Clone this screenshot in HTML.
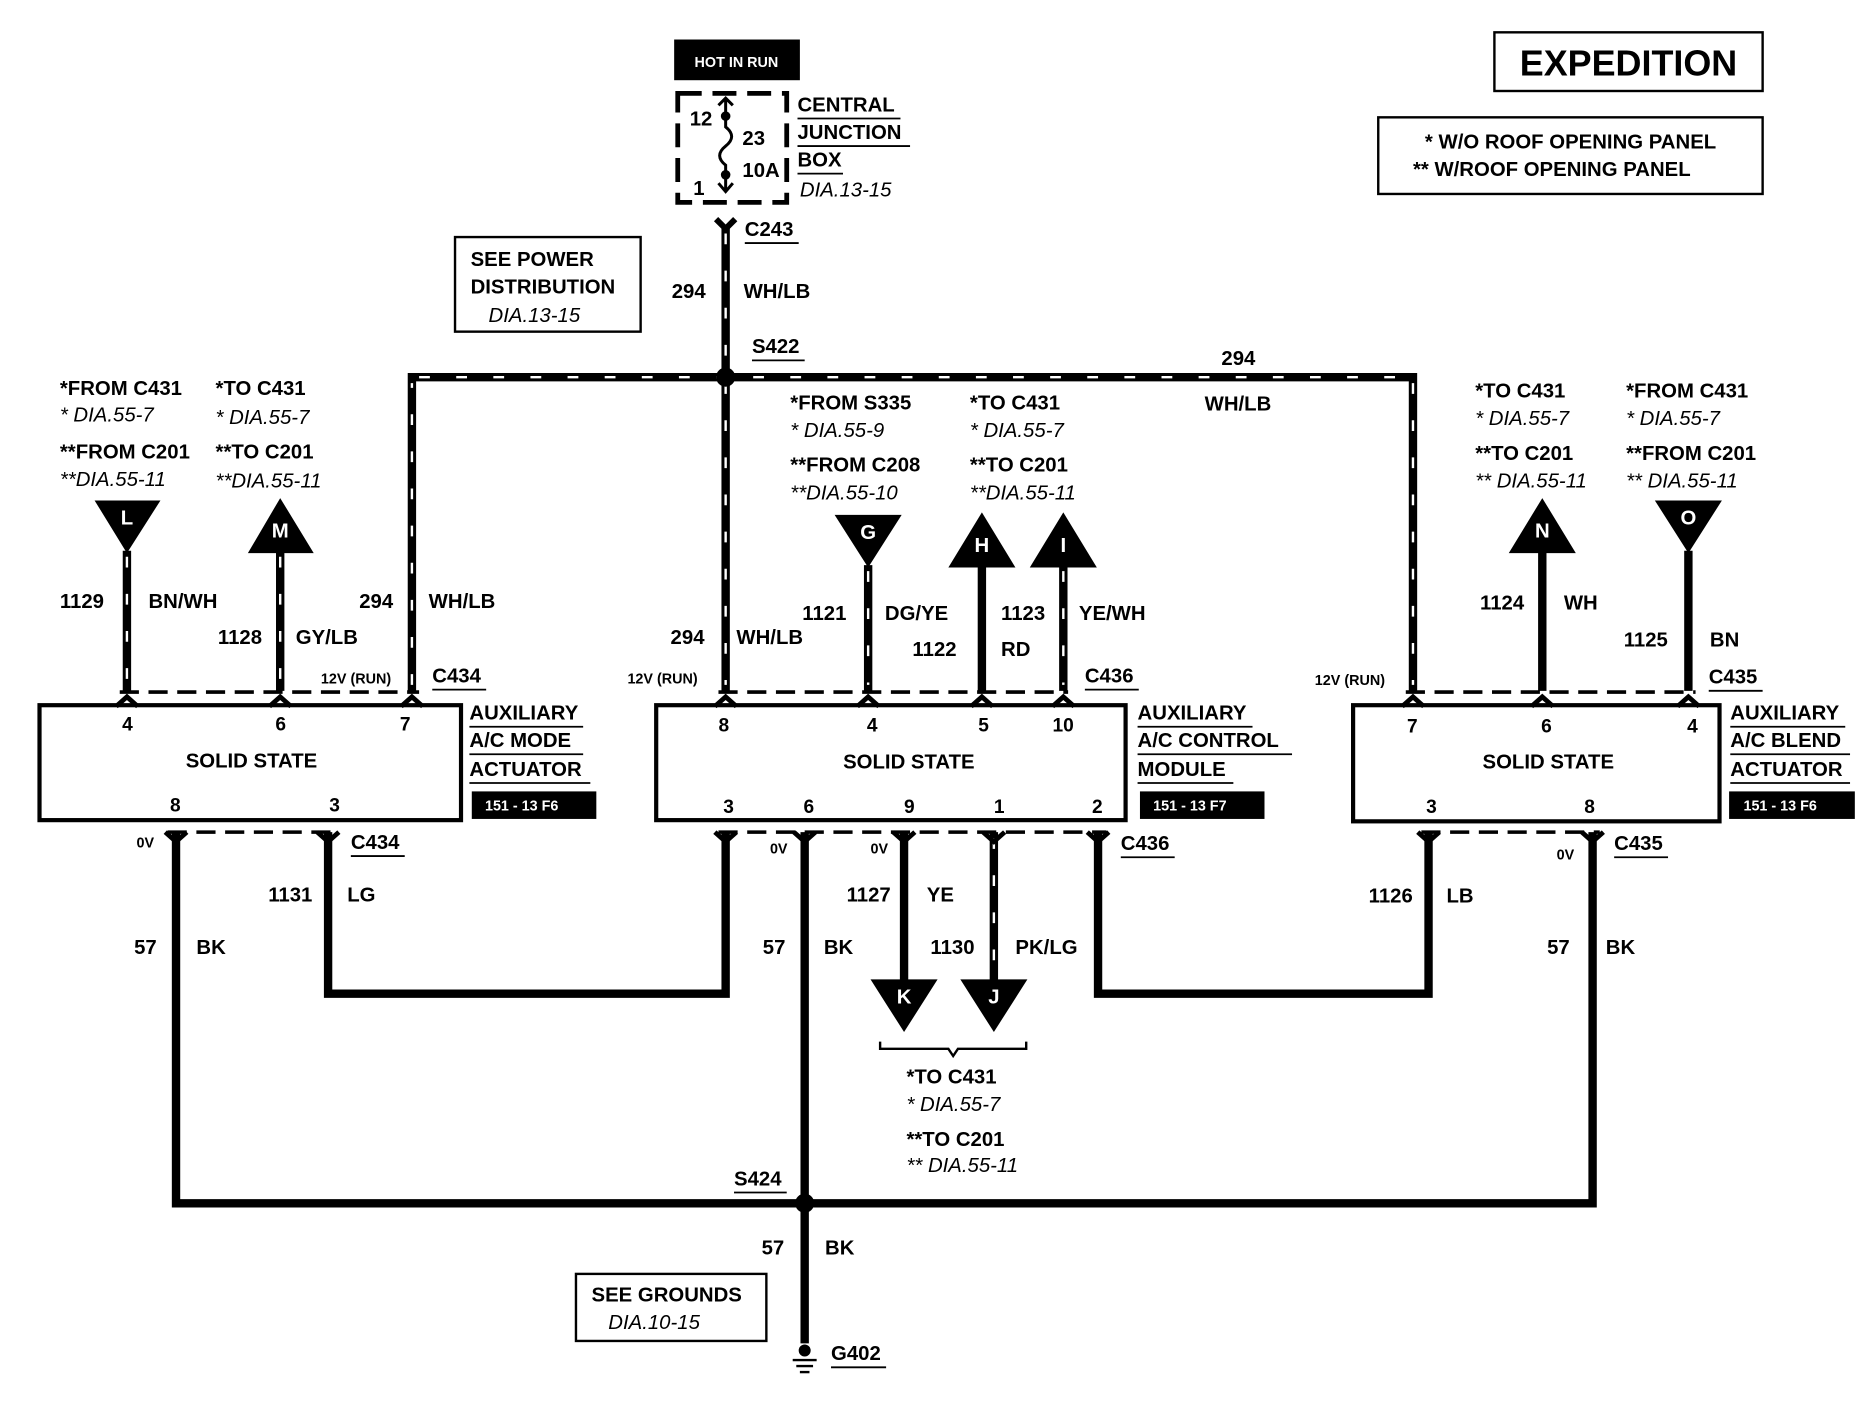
<!DOCTYPE html>
<html><head><meta charset="utf-8"><style>
html,body{margin:0;padding:0;background:#fff;}
svg{display:block;}
text{font-family:"Liberation Sans",sans-serif;font-weight:bold;font-size:17px;fill:#000;}
.i{font-style:italic;font-weight:normal;}
.s{font-size:12px;}
.w{fill:#fff;}
.m{font-size:16px;}
</style></head><body>
<svg width="1868" height="1408" viewBox="0 0 1560 1176" preserveAspectRatio="none" xmlns="http://www.w3.org/2000/svg">
<defs>
<g id="fk"><path d="M-9,-8 L0,0 L9,-8" stroke="#000" stroke-width="4" fill="none"/></g>
</defs>
<!-- HOT IN RUN -->
<rect x="563" y="33" width="105" height="34" fill="#000"/>
<text x="615" y="56" class="s w" text-anchor="middle" font-weight="normal">HOT IN RUN</text>
<rect x="566" y="78" width="91" height="91" fill="none" stroke="#000" stroke-width="4" stroke-dasharray="20,9"/>
<path d="M606,82 L606,96 M606,96 L606,106 Q616,114 606,122 Q596,130 606,138 L606,160 M600,88 L606,82 L612,88 M600,153 L606,160 L612,153" stroke="#000" stroke-width="2.5" fill="none"/>
<circle cx="606" cy="97" r="4"/><circle cx="606" cy="146" r="4"/>
<text x="576" y="105">12</text><text x="620" y="121">23</text><text x="620" y="148">10A</text><text x="579" y="163">1</text>
<text x="666" y="93">CENTRAL</text><line x1="666" y1="99" x2="752" y2="99" stroke="#000" stroke-width="1.5"/>
<text x="666" y="116">JUNCTION</text><line x1="666" y1="122" x2="760" y2="122" stroke="#000" stroke-width="1.5"/>
<text x="666" y="139">BOX</text><line x1="666" y1="145" x2="704" y2="145" stroke="#000" stroke-width="1.5"/>
<text x="668" y="164" class="i">DIA.13-15</text>
<!-- EXPEDITION -->
<rect x="1248" y="27" width="224" height="49" fill="none" stroke="#000" stroke-width="2"/>
<text x="1360" y="63" text-anchor="middle" style="font-size:30px">EXPEDITION</text>
<rect x="1151" y="98" width="321" height="64" fill="none" stroke="#000" stroke-width="2"/>
<text x="1190" y="124">*  W/O ROOF OPENING PANEL</text>
<text x="1180" y="147">**  W/ROOF OPENING PANEL</text>
<!-- see power -->
<rect x="380" y="198" width="155" height="79" fill="none" stroke="#000" stroke-width="2"/>
<text x="393" y="222">SEE POWER</text><text x="393" y="245">DISTRIBUTION</text><text x="408" y="269" class="i">DIA.13-15</text>
<!-- thick wires -->
<g stroke="#000" stroke-width="7" fill="none">
<path d="M606,190 L606,315 M344,577 L344,315 L1180,315 L1180,577 M606,315 L606,577"/>
<path d="M106,460 L106,577 M234,460 L234,577 M725,472 L725,577 M820,472 L820,577 M888,472 L888,577 M1288,460 L1288,577 M1410,460 L1410,577"/>
<path d="M147,695 L147,1005 L1330,1005 L1330,695 M274,695 L274,830 L606,830 L606,695 M672,695 L672,1122 M755,695 L755,820 M830,695 L830,820 M917,695 L917,830 L1193,830 L1193,695"/>
</g>
<g stroke="#fff" stroke-width="2" fill="none" stroke-dasharray="9,22">
<path d="M606,195 L606,310 M344,572 L344,320 M350,315 L1174,315 M1180,320 L1180,572 M606,320 L606,572"/>
<path d="M106,465 L106,572 M234,465 L234,572 M725,477 L725,572 M888,477 L888,572 M830,700 L830,815"/>
</g>
<path d="M598,183 L606,191 L614,183" stroke="#000" stroke-width="5" fill="none"/>
<text x="622" y="197">C243</text><line x1="622" y1="203" x2="667" y2="203" stroke="#000" stroke-width="1.5"/>
<text x="561" y="249">294</text><text x="621" y="249">WH/LB</text>
<circle cx="606" cy="315" r="8"/>
<text x="628" y="295">S422</text><line x1="628" y1="301" x2="672" y2="301" stroke="#000" stroke-width="1.5"/>
<text x="1020" y="305">294</text><text x="1006" y="343">WH/LB</text>
<!-- connector dashes top -->
<g stroke="#000" stroke-width="3" stroke-dasharray="16,8"><path d="M100,578 L350,578 M600,578 L892,578 M1174,578 L1416,578 M140,695 L282,695 M600,695 L924,695 M1187,695 L1336,695"/></g>
<g>
<use href="#fk" transform="translate(106,582) rotate(180)"/><use href="#fk" transform="translate(234,582) rotate(180)"/><use href="#fk" transform="translate(344,582) rotate(180)"/>
<use href="#fk" transform="translate(606,582) rotate(180)"/><use href="#fk" transform="translate(725,582) rotate(180)"/><use href="#fk" transform="translate(820,582) rotate(180)"/><use href="#fk" transform="translate(888,582) rotate(180)"/>
<use href="#fk" transform="translate(1180,582) rotate(180)"/><use href="#fk" transform="translate(1288,582) rotate(180)"/><use href="#fk" transform="translate(1410,582) rotate(180)"/>
<use href="#fk" transform="translate(147,703)"/><use href="#fk" transform="translate(274,703)"/><use href="#fk" transform="translate(606,703)"/><use href="#fk" transform="translate(672,703)"/><use href="#fk" transform="translate(755,703)"/><use href="#fk" transform="translate(830,703)"/><use href="#fk" transform="translate(917,703)"/><use href="#fk" transform="translate(1193,703)"/><use href="#fk" transform="translate(1330,703)"/>
</g>
<!-- triangles -->
<path d="M79,418 L134,418 L106,462 Z M207,462 L262,462 L234,416 Z M697,430 L753,430 L725,474 Z M792,474 L848,474 L820,428 Z M860,474 L916,474 L888,428 Z M1260,462 L1316,462 L1288,416 Z M1382,418 L1438,418 L1410,462 Z M727,818 L783,818 L755,862 Z M802,818 L858,818 L830,862 Z"/>
<g class="w" text-anchor="middle" style="font-size:15px"><text x="106" y="438" class="w">L</text><text x="234" y="449" class="w">M</text><text x="725" y="450" class="w">G</text><text x="820" y="461" class="w">H</text><text x="888" y="461" class="w">I</text><text x="1288" y="449" class="w">N</text><text x="1410" y="438" class="w">O</text><text x="755" y="838" class="w">K</text><text x="830" y="838" class="w">J</text></g>
<!-- left labels -->
<text x="50" y="330">*FROM C431</text><text x="50" y="352" class="i">* DIA.55-7</text>
<text x="50" y="383">**FROM C201</text><text x="50" y="406" class="i">**DIA.55-11</text>
<text x="180" y="330">*TO C431</text><text x="180" y="354" class="i">* DIA.55-7</text>
<text x="180" y="383">**TO C201</text><text x="180" y="407" class="i">**DIA.55-11</text>
<text x="50" y="508">1129</text><text x="124" y="508">BN/WH</text>
<text x="182" y="538">1128</text><text x="247" y="538">GY/LB</text>
<text x="300" y="508">294</text><text x="358" y="508">WH/LB</text>
<text x="268" y="571" class="s">12V (RUN)</text>
<text x="361" y="570">C434</text><line x1="361" y1="576" x2="406" y2="576" stroke="#000" stroke-width="1.5"/>
<!-- center labels -->
<text x="660" y="342">*FROM S335</text><text x="660" y="365" class="i">* DIA.55-9</text>
<text x="660" y="394">**FROM C208</text><text x="660" y="417" class="i">**DIA.55-10</text>
<text x="810" y="342">*TO C431</text><text x="810" y="365" class="i">* DIA.55-7</text>
<text x="810" y="394">**TO C201</text><text x="810" y="417" class="i">**DIA.55-11</text>
<text x="560" y="538">294</text><text x="615" y="538">WH/LB</text>
<text x="524" y="571" class="s">12V (RUN)</text>
<text x="670" y="518">1121</text><text x="739" y="518">DG/YE</text>
<text x="762" y="548">1122</text><text x="836" y="548">RD</text>
<text x="836" y="518">1123</text><text x="901" y="518">YE/WH</text>
<text x="906" y="570">C436</text><line x1="906" y1="576" x2="951" y2="576" stroke="#000" stroke-width="1.5"/>
<!-- right labels -->
<text x="1232" y="332">*TO C431</text><text x="1232" y="355" class="i">* DIA.55-7</text>
<text x="1232" y="384">**TO C201</text><text x="1232" y="407" class="i">** DIA.55-11</text>
<text x="1358" y="332">*FROM C431</text><text x="1358" y="355" class="i">* DIA.55-7</text>
<text x="1358" y="384">**FROM C201</text><text x="1358" y="407" class="i">** DIA.55-11</text>
<text x="1236" y="509">1124</text><text x="1306" y="509">WH</text>
<text x="1356" y="540">1125</text><text x="1428" y="540">BN</text>
<text x="1098" y="572" class="s">12V (RUN)</text>
<text x="1427" y="571">C435</text><line x1="1427" y1="577" x2="1472" y2="577" stroke="#000" stroke-width="1.5"/>
<!-- boxes -->
<g fill="none" stroke="#000" stroke-width="3.5"><rect x="33" y="589" width="352" height="96"/><rect x="548" y="589" width="392" height="96"/><rect x="1130" y="589" width="306" height="97"/></g>
<text x="102" y="610" class="m">4</text><text x="230" y="610" class="m">6</text><text x="334" y="610" class="m">7</text>
<text x="210" y="641" text-anchor="middle">SOLID STATE</text>
<text x="142" y="678" class="m">8</text><text x="275" y="678" class="m">3</text>
<text x="600" y="611" class="m">8</text><text x="724" y="611" class="m">4</text><text x="817" y="611" class="m">5</text><text x="879" y="611" class="m">10</text>
<text x="759" y="642" text-anchor="middle">SOLID STATE</text>
<text x="604" y="679" class="m">3</text><text x="671" y="679" class="m">6</text><text x="755" y="679" class="m">9</text><text x="830" y="679" class="m">1</text><text x="912" y="679" class="m">2</text>
<text x="1175" y="612" class="m">7</text><text x="1287" y="612" class="m">6</text><text x="1409" y="612" class="m">4</text>
<text x="1293" y="642" text-anchor="middle">SOLID STATE</text>
<text x="1191" y="679" class="m">3</text><text x="1323" y="679" class="m">8</text>
<g stroke="#000" stroke-width="1.5">
<line x1="392" y1="607" x2="487" y2="607"/><line x1="392" y1="630" x2="487" y2="630"/><line x1="392" y1="654" x2="493" y2="654"/>
<line x1="950" y1="607" x2="1046" y2="607"/><line x1="950" y1="630" x2="1079" y2="630"/><line x1="950" y1="654" x2="1030" y2="654"/>
<line x1="1445" y1="607" x2="1541" y2="607"/><line x1="1445" y1="630" x2="1545" y2="630"/><line x1="1445" y1="654" x2="1545" y2="654"/>
</g>
<text x="392" y="601">AUXILIARY</text><text x="392" y="624">A/C MODE</text><text x="392" y="648">ACTUATOR</text>
<text x="950" y="601">AUXILIARY</text><text x="950" y="624">A/C CONTROL</text><text x="950" y="648">MODULE</text>
<text x="1445" y="601">AUXILIARY</text><text x="1445" y="624">A/C BLEND</text><text x="1445" y="648">ACTUATOR</text>
<rect x="394" y="661" width="104" height="23"/><text x="405" y="677" class="s w" font-weight="normal">151 - 13 F6</text>
<rect x="952" y="661" width="104" height="23"/><text x="963" y="677" class="s w" font-weight="normal">151 - 13 F7</text>
<rect x="1444" y="661" width="105" height="23"/><text x="1456" y="677" class="s w" font-weight="normal">151 - 13 F6</text>
<!-- bottom labels -->
<text x="114" y="708" class="s">0V</text>
<text x="293" y="709">C434</text><line x1="293" y1="715" x2="338" y2="715" stroke="#000" stroke-width="1.5"/>
<text x="224" y="753">1131</text><text x="290" y="753">LG</text>
<text x="112" y="797">57</text><text x="164" y="797">BK</text>
<text x="643" y="713" class="s">0V</text><text x="727" y="713" class="s">0V</text>
<text x="936" y="710">C436</text><line x1="936" y1="716" x2="981" y2="716" stroke="#000" stroke-width="1.5"/>
<text x="637" y="797">57</text><text x="688" y="797">BK</text>
<text x="707" y="753">1127</text><text x="774" y="753">YE</text>
<text x="777" y="797">1130</text><text x="848" y="797">PK/LG</text>
<text x="1300" y="718" class="s">0V</text>
<text x="1348" y="710">C435</text><line x1="1348" y1="716" x2="1393" y2="716" stroke="#000" stroke-width="1.5"/>
<text x="1143" y="754">1126</text><text x="1208" y="754">LB</text>
<text x="1292" y="797">57</text><text x="1341" y="797">BK</text>
<path d="M735,870 L735,876 L792,876 L796,882 L800,876 L857,876 L857,870" stroke="#000" stroke-width="2" fill="none"/>
<text x="757" y="905">*TO C431</text><text x="757" y="928" class="i">* DIA.55-7</text>
<text x="757" y="957">**TO C201</text><text x="757" y="979" class="i">** DIA.55-11</text>
<circle cx="672" cy="1005" r="8"/>
<text x="613" y="990">S424</text><line x1="613" y1="996" x2="657" y2="996" stroke="#000" stroke-width="1.5"/>
<text x="636" y="1048">57</text><text x="689" y="1048">BK</text>
<rect x="481" y="1064" width="159" height="56" fill="none" stroke="#000" stroke-width="2"/>
<text x="494" y="1087">SEE GROUNDS</text><text x="508" y="1110" class="i">DIA.10-15</text>
<circle cx="672" cy="1128" r="5"/>
<g stroke="#000" stroke-width="2"><line x1="662" y1="1136" x2="682" y2="1136"/><line x1="665" y1="1141" x2="679" y2="1141"/><line x1="668" y1="1146" x2="676" y2="1146"/></g>
<text x="694" y="1136">G402</text><line x1="694" y1="1142" x2="740" y2="1142" stroke="#000" stroke-width="1.5"/>
</svg>
</body></html>
